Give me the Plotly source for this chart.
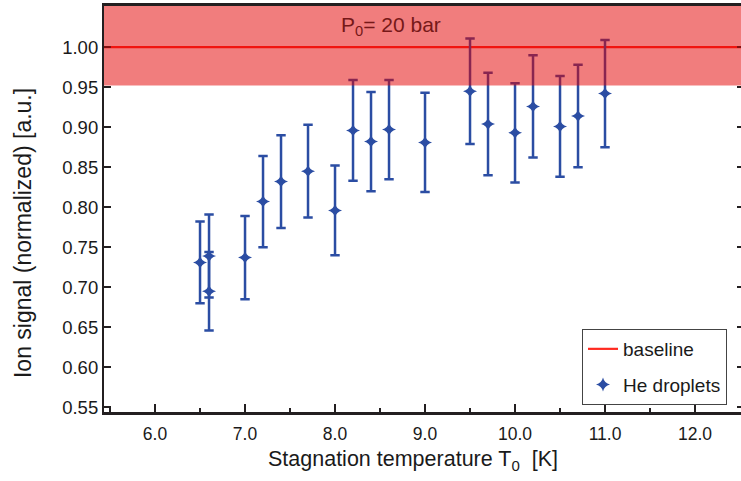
import plotly.graph_objects as go

# Stagnation temperature T0 [K] and normalized ion signal with uncertainty
temperature = [6.5, 6.6, 6.6, 7.0, 7.2, 7.4, 7.7, 8.0, 8.2, 8.4, 8.6, 9.0,
               9.5, 9.7, 10.0, 10.2, 10.5, 10.7, 11.0]
ion_signal = [0.731, 0.739, 0.695, 0.737, 0.807, 0.832, 0.845, 0.796, 0.896,
              0.882, 0.897, 0.881, 0.945, 0.904, 0.893, 0.926, 0.901, 0.914, 0.942]
ion_error = [0.051, 0.052, 0.049, 0.052, 0.057, 0.058, 0.058, 0.056, 0.063,
             0.062, 0.062, 0.062, 0.066, 0.064, 0.062, 0.064, 0.063, 0.064, 0.067]

baseline_value = 1.00
baseline_band_low = 0.952
pressure_label = "P<sub>0</sub>= 20 bar"
x_title = "Stagnation temperature T<sub>0</sub>  [K]"
y_title = "Ion signal (normalized) [a.u.]"

x_range = [5.433, 12.511]
y_range = [0.544, 1.0515]
x_ticks = [6.0, 7.0, 8.0, 9.0, 10.0, 11.0, 12.0]
y_ticks = [0.55, 0.60, 0.65, 0.70, 0.75, 0.80, 0.85, 0.90, 0.95, 1.00]

blue = "#2B4DA3"
axis_color = "#231F20"
text_color = "#1a1a1a"
font_family = "Liberation Sans, Arial, sans-serif"

fig = go.Figure()

fig.add_trace(go.Scatter(
    x=x_range, y=[baseline_value, baseline_value],
    mode="lines", line=dict(color="#FF2A20", width=2.2),
    name="baseline", legendgroup="a",
))

fig.add_trace(go.Scatter(
    x=temperature, y=ion_signal, mode="markers",
    marker=dict(symbol="star-diamond", size=10, color=blue,
                line=dict(width=0)),
    error_y=dict(type="data", array=ion_error, visible=True,
                 color=blue, thickness=2.5, width=4.7),
    name="He droplets", legendgroup="b",
))

# invisible trace that carries the right-hand tick axis
fig.add_trace(go.Scatter(x=x_range, y=y_range, yaxis="y2", mode="markers",
                         marker=dict(opacity=0), showlegend=False,
                         hoverinfo="skip"))

# translucent band around the baseline
fig.add_shape(type="rect", xref="paper", yref="y", layer="above",
              x0=0, x1=1, y0=baseline_band_low, y1=y_range[1],
              fillcolor="rgba(228,0,0,0.51)", line=dict(width=0))

fig.add_annotation(x=8.62, y=1.026, text=pressure_label, showarrow=False,
                   font=dict(family=font_family, size=21, color="#761818"),
                   xanchor="center", yanchor="middle")

# axis titles
fig.add_annotation(xref="paper", yref="paper", x=0.485, y=-0.12,
                   text=x_title, showarrow=False,
                   font=dict(family=font_family, size=21.5, color=text_color),
                   xanchor="center", yanchor="middle")
fig.add_annotation(xref="paper", yref="paper", x=-0.127, y=0.441,
                   text=y_title, showarrow=False, textangle=-90,
                   font=dict(family=font_family, size=23, color=text_color),
                   xanchor="center", yanchor="middle")

fig.update_layout(
    width=741, height=481,
    margin=dict(l=104, r=0, t=6, b=69),
    paper_bgcolor="white", plot_bgcolor="white",
    font=dict(family=font_family, color=text_color),
    showlegend=True,
    legend=dict(
        x=(582 - 104) / 637, y=1 - (329 - 6) / 406,
        xanchor="left", yanchor="top",
        bgcolor="white", bordercolor="#444", borderwidth=1,
        font=dict(family=font_family, size=19, color=text_color),
        traceorder="grouped", tracegroupgap=8, itemwidth=30,
    ),
    xaxis=dict(
        range=x_range, tickvals=x_ticks,
        ticktext=[f"{v:.1f}" for v in x_ticks],
        ticks="inside", ticklen=8, tickwidth=2, tickcolor=axis_color,
        minor=dict(dtick=0.5, tick0=0, ticks="inside", ticklen=4,
                   tickwidth=2, tickcolor=axis_color, showgrid=False),
        showline=True, linecolor=axis_color, linewidth=2.6, mirror=True,
        showgrid=False, zeroline=False, ticklabelstandoff=4,
        tickfont=dict(size=17.5, color=text_color),
    ),
    yaxis=dict(
        range=y_range, tickvals=y_ticks,
        ticktext=[f"{v:.2f}" for v in y_ticks],
        ticks="inside", ticklen=7, tickwidth=2, tickcolor=axis_color,
        showline=True, linecolor=axis_color, linewidth=2.2,
        showgrid=False, zeroline=False,
        tickfont=dict(size=18.5, color=text_color),
    ),
    yaxis2=dict(
        range=y_range, tickvals=y_ticks, overlaying="y", side="right",
        ticks="inside", ticklen=4, tickwidth=2, tickcolor=axis_color,
        showticklabels=False, showline=False, showgrid=False,
        zeroline=False,
    ),
)

fig.write_html("out.html")
